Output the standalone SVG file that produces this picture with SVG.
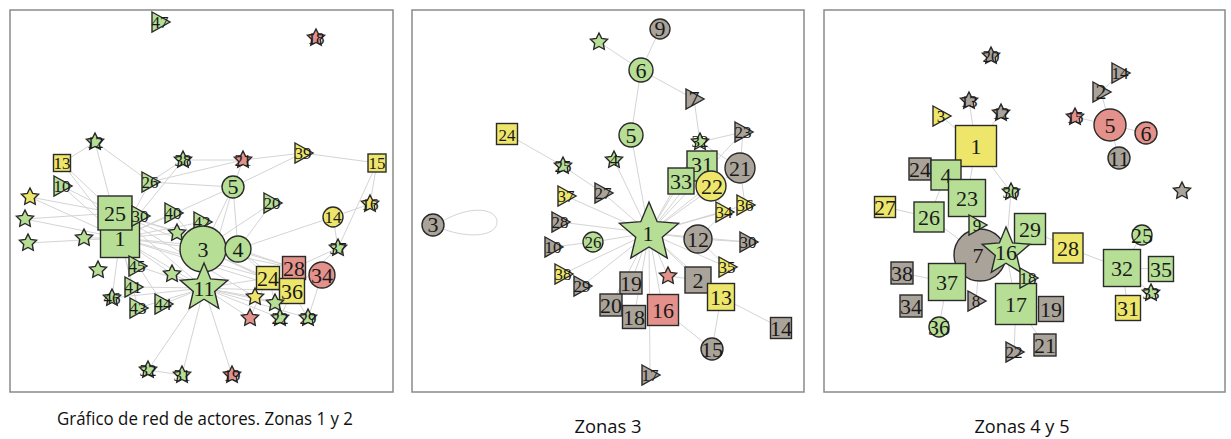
<svg xmlns="http://www.w3.org/2000/svg" xmlns:xlink="http://www.w3.org/1999/xlink" width="1231" height="439" viewBox="0 0 1231 439">
<style>
.frame{fill:#fff;stroke:#8a8a8a;stroke-width:1.5}
.e line,.e path{stroke:#d4d4d4;stroke-width:1;fill:none}
.g{fill:#b6de95}.y{fill:#eee66a}.p{fill:#e3918a}.k{fill:#aaa399}
.n *{stroke:#2a2a2a;stroke-width:1.4}
.n text{stroke:none;fill:#1a1a1a;font-family:"Liberation Serif","DejaVu Serif",serif;font-size:17px;text-anchor:middle}
.n text.b{font-size:22px}
.cap{font-family:"Open Sans","Liberation Sans",sans-serif;font-size:18px;fill:#111;text-anchor:middle}
</style>
<defs>
<path id="s9" d="M0,-9 L2.65,-3.64 L8.56,-2.78 L4.28,1.39 L5.29,7.28 L0,4.5 L-5.29,7.28 L-4.28,1.39 L-8.56,-2.78 L-2.65,-3.64 Z"/>
<path id="s25" d="M0,-25 L6.61,-9.1 L23.78,-7.73 L10.7,3.48 L14.69,20.23 L0,11.25 L-14.69,20.23 L-10.7,3.48 L-23.78,-7.73 L-6.61,-9.1 Z"/>
<path id="s31" d="M0,-31 L8.2,-11.29 L29.48,-9.58 L13.27,4.31 L18.22,25.08 L0,13.95 L-18.22,25.08 L-13.27,4.31 L-29.48,-9.58 L-8.2,-11.29 Z"/>
<path id="t" d="M-8,-10 L10,0 L-8,10 Z"/>
</defs>
<rect x="0" y="0" width="1231" height="439" fill="#fff"/>
<rect class="frame" x="10" y="10" width="383" height="382"/>
<rect class="frame" x="412" y="10" width="392" height="382"/>
<rect class="frame" x="824" y="10" width="401" height="382"/>

<g id="connectors" class="e">
<!-- panel 1 -->
<line x1="120" y1="238" x2="62" y2="163"/><line x1="120" y1="238" x2="95" y2="142"/><line x1="120" y1="238" x2="62" y2="186"/>
<line x1="120" y1="238" x2="30" y2="197"/><line x1="120" y1="238" x2="25" y2="219"/><line x1="120" y1="238" x2="28" y2="243"/>
<line x1="120" y1="238" x2="84" y2="238"/><line x1="120" y1="238" x2="150" y2="182"/><line x1="120" y1="238" x2="203" y2="249"/>
<line x1="120" y1="238" x2="204" y2="288"/><line x1="120" y1="238" x2="238" y2="249"/><line x1="120" y1="238" x2="268" y2="278"/>
<line x1="120" y1="238" x2="292" y2="291"/><line x1="120" y1="238" x2="137" y2="266"/><line x1="120" y1="238" x2="133" y2="287"/>
<line x1="120" y1="238" x2="112" y2="298"/><line x1="120" y1="238" x2="138" y2="308"/><line x1="120" y1="238" x2="163" y2="304"/>
<line x1="120" y1="238" x2="172" y2="274"/><line x1="120" y1="238" x2="173" y2="213"/><line x1="120" y1="238" x2="202" y2="222"/>
<line x1="120" y1="238" x2="177" y2="233"/><line x1="120" y1="238" x2="183" y2="160"/><line x1="120" y1="238" x2="233" y2="187"/>
<line x1="115" y1="213" x2="62" y2="163"/><line x1="115" y1="213" x2="30" y2="197"/><line x1="115" y1="213" x2="25" y2="219"/>
<line x1="115" y1="213" x2="62" y2="186"/><line x1="115" y1="213" x2="203" y2="249"/><line x1="115" y1="213" x2="204" y2="288"/>
<line x1="115" y1="213" x2="238" y2="249"/><line x1="115" y1="213" x2="294" y2="268"/><line x1="115" y1="213" x2="255" y2="297"/>
<line x1="95" y1="142" x2="62" y2="163"/><line x1="95" y1="142" x2="150" y2="182"/>
<line x1="150" y1="182" x2="183" y2="160"/><line x1="150" y1="182" x2="233" y2="187"/><line x1="150" y1="182" x2="243" y2="160"/>
<line x1="183" y1="160" x2="243" y2="160"/><line x1="243" y1="160" x2="303" y2="153"/><line x1="303" y1="153" x2="377" y2="163"/>
<line x1="303" y1="153" x2="233" y2="187"/><line x1="243" y1="160" x2="233" y2="187"/><line x1="233" y1="187" x2="203" y2="249"/>
<line x1="233" y1="187" x2="238" y2="249"/><line x1="233" y1="187" x2="204" y2="288"/><line x1="272" y1="203" x2="238" y2="249"/>
<line x1="272" y1="203" x2="203" y2="249"/><line x1="377" y1="163" x2="338" y2="248"/><line x1="377" y1="163" x2="370" y2="204"/>
<line x1="370" y1="204" x2="333" y2="217"/><line x1="333" y1="217" x2="338" y2="248"/><line x1="333" y1="217" x2="238" y2="249"/>
<line x1="338" y1="248" x2="294" y2="268"/><line x1="338" y1="248" x2="292" y2="291"/><line x1="322" y1="275" x2="308" y2="318"/>
<line x1="292" y1="291" x2="308" y2="318"/><line x1="203" y1="249" x2="204" y2="288"/><line x1="203" y1="249" x2="268" y2="278"/>
<line x1="203" y1="249" x2="292" y2="291"/><line x1="203" y1="249" x2="294" y2="268"/><line x1="238" y1="249" x2="268" y2="278"/>
<line x1="238" y1="249" x2="294" y2="268"/><line x1="238" y1="249" x2="292" y2="291"/><line x1="204" y1="288" x2="268" y2="278"/>
<line x1="204" y1="288" x2="292" y2="291"/><line x1="204" y1="288" x2="255" y2="297"/><line x1="204" y1="288" x2="275" y2="303"/>
<line x1="204" y1="288" x2="280" y2="318"/><line x1="204" y1="288" x2="308" y2="318"/><line x1="204" y1="288" x2="250" y2="318"/>
<line x1="204" y1="288" x2="232" y2="375"/><line x1="204" y1="288" x2="148" y2="370"/><line x1="204" y1="288" x2="182" y2="375"/>
<line x1="204" y1="288" x2="137" y2="266"/><line x1="204" y1="288" x2="133" y2="287"/><line x1="204" y1="288" x2="138" y2="308"/>
<line x1="204" y1="288" x2="163" y2="304"/><line x1="204" y1="288" x2="112" y2="298"/><line x1="204" y1="288" x2="172" y2="274"/>
<line x1="203" y1="249" x2="177" y2="233"/><line x1="203" y1="249" x2="202" y2="222"/><line x1="203" y1="249" x2="173" y2="213"/>
<line x1="148" y1="370" x2="182" y2="375"/><line x1="268" y1="278" x2="280" y2="318"/><line x1="255" y1="297" x2="275" y2="303"/>
<line x1="292" y1="291" x2="280" y2="318"/><line x1="268" y1="278" x2="250" y2="318"/>
<!-- panel 2 -->
<line x1="660" y1="29" x2="641" y2="70"/><line x1="641" y1="70" x2="599" y2="42"/><line x1="641" y1="70" x2="631" y2="135"/>
<line x1="641" y1="70" x2="694" y2="99"/><line x1="694" y1="99" x2="700" y2="142"/><line x1="631" y1="135" x2="649" y2="233"/>
<line x1="507" y1="134" x2="563" y2="166"/><line x1="563" y1="166" x2="603" y2="193"/>
<line x1="649" y1="233" x2="614" y2="160"/><line x1="649" y1="233" x2="566" y2="196"/><line x1="649" y1="233" x2="603" y2="193"/>
<line x1="649" y1="233" x2="560" y2="222"/><line x1="649" y1="233" x2="593" y2="242"/><line x1="649" y1="233" x2="563" y2="274"/>
<line x1="649" y1="233" x2="582" y2="286"/><line x1="649" y1="233" x2="631" y2="283"/><line x1="649" y1="233" x2="611" y2="305"/>
<line x1="649" y1="233" x2="634" y2="317"/><line x1="649" y1="233" x2="663" y2="310"/><line x1="649" y1="233" x2="650" y2="375"/>
<line x1="649" y1="233" x2="698" y2="239"/><line x1="649" y1="233" x2="698" y2="280"/><line x1="649" y1="233" x2="724" y2="212"/>
<line x1="649" y1="233" x2="745" y2="205"/><line x1="649" y1="233" x2="743" y2="132"/><line x1="649" y1="233" x2="740" y2="168"/>
<line x1="649" y1="233" x2="711" y2="184"/><line x1="649" y1="233" x2="681" y2="181"/><line x1="649" y1="233" x2="702" y2="166"/>
<line x1="649" y1="233" x2="700" y2="142"/><line x1="649" y1="233" x2="668" y2="276"/><line x1="649" y1="233" x2="727" y2="267"/>
<line x1="649" y1="233" x2="748" y2="242"/><line x1="649" y1="233" x2="721" y2="297"/>
<line x1="593" y1="242" x2="553" y2="247"/><line x1="698" y1="239" x2="748" y2="242"/><line x1="698" y1="239" x2="724" y2="212"/>
<line x1="698" y1="280" x2="721" y2="297"/><line x1="721" y1="297" x2="781" y2="328"/><line x1="721" y1="297" x2="712" y2="349"/>
<line x1="663" y1="310" x2="712" y2="349"/><line x1="740" y1="168" x2="743" y2="132"/><line x1="700" y1="142" x2="743" y2="132"/>
<line x1="700" y1="142" x2="740" y2="168"/><line x1="711" y1="184" x2="724" y2="212"/><line x1="698" y1="239" x2="727" y2="267"/>
<line x1="698" y1="280" x2="668" y2="276"/><line x1="740" y1="168" x2="745" y2="205"/>
<path d="M443,221 C470,205 497,208 497,222 C497,236 470,239 443,229"/>
<!-- panel 3 -->
<line x1="941" y1="116" x2="976" y2="146"/><line x1="969" y1="101" x2="976" y2="146"/><line x1="1001" y1="113" x2="976" y2="146"/>
<line x1="976" y1="146" x2="1011" y2="192"/><line x1="976" y1="146" x2="967" y2="198"/><line x1="976" y1="146" x2="946" y2="175"/>
<line x1="946" y1="175" x2="920" y2="169"/><line x1="946" y1="175" x2="929" y2="217"/><line x1="929" y1="217" x2="885" y2="207"/>
<line x1="929" y1="217" x2="980" y2="255"/><line x1="967" y1="198" x2="980" y2="255"/><line x1="967" y1="198" x2="977" y2="225"/>
<line x1="980" y1="255" x2="1006" y2="252"/><line x1="980" y1="255" x2="947" y2="282"/><line x1="947" y1="282" x2="902" y2="273"/>
<line x1="947" y1="282" x2="939" y2="327"/><line x1="980" y1="255" x2="976" y2="301"/><line x1="1006" y1="252" x2="1030" y2="229"/>
<line x1="1006" y1="252" x2="1016" y2="304"/><line x1="1006" y1="252" x2="1011" y2="192"/><line x1="1016" y1="304" x2="1014" y2="352"/>
<line x1="1016" y1="304" x2="1045" y2="345"/><line x1="1016" y1="304" x2="1051" y2="309"/><line x1="1030" y1="229" x2="1068" y2="248"/>
<line x1="1068" y1="248" x2="1122" y2="268"/><line x1="1122" y1="268" x2="1142" y2="235"/><line x1="1122" y1="268" x2="1161" y2="269"/>
<line x1="1122" y1="268" x2="1128" y2="308"/><line x1="1110" y1="125" x2="1101" y2="92"/><line x1="1110" y1="125" x2="1075" y2="117"/>
<line x1="1110" y1="125" x2="1146" y2="133"/><line x1="1110" y1="125" x2="1119" y2="158"/><line x1="1101" y1="92" x2="1120" y2="73"/>
<line x1="1006" y1="252" x2="1028" y2="278"/><line x1="1122" y1="268" x2="1151" y2="293"/>
</g>

<!-- ===== Panel 1 nodes ===== -->
<g id="p1-47" class="n"><use href="#t" x="160" y="22" class="g"/><text x="160" y="28">47</text></g>
<g id="p1-18" class="n"><use href="#s9" x="316" y="38" class="p"/><text x="316" y="44">18</text></g>
<g id="p1-12" class="n"><use href="#s9" x="95" y="142" class="g"/><text x="95" y="148">12</text></g>
<g id="p1-13" class="n"><rect x="53.5" y="154.5" width="17" height="17" class="y"/><text x="62" y="169">13</text></g>
<g id="p1-10" class="n"><use href="#t" x="62" y="186" class="g"/><text x="62" y="192">10</text></g>
<g id="p1-26" class="n"><use href="#t" x="150" y="182" class="g"/><text x="150" y="188">26</text></g>
<g id="p1-38" class="n"><use href="#s9" x="183" y="160" class="g"/><text x="183" y="166">38</text></g>
<g id="p1-21" class="n"><use href="#s9" x="243" y="160" class="p"/><text x="243" y="166">21</text></g>
<g id="p1-39" class="n"><use href="#t" x="303" y="153" class="y"/><text x="303" y="159">39</text></g>
<g id="p1-15" class="n"><rect x="368" y="154" width="18" height="18" class="y"/><text x="377" y="169">15</text></g>
<g id="p1-5" class="n"><circle cx="233" cy="187" r="11" class="g"/><text x="233" y="194" class="b">5</text></g>
<g id="p1-20" class="n"><use href="#t" x="272" y="203" class="g"/><text x="272" y="209">20</text></g>
<g id="p1-16" class="n"><use href="#s9" x="370" y="204" class="y"/><text x="370" y="210">16</text></g>
<g id="p1-14" class="n"><circle cx="333" cy="217" r="10" class="y"/><text x="333" y="223">14</text></g>
<g id="p1-37" class="n"><use href="#s9" x="338" y="248" class="g"/><text x="338" y="254">37</text></g>
<g id="p1-a" class="n"><use href="#s9" x="30" y="197" class="y"/></g>
<g id="p1-b" class="n"><use href="#s9" x="25" y="219" class="g"/></g>
<g id="p1-c" class="n"><use href="#s9" x="28" y="243" class="g"/></g>
<g id="p1-d" class="n"><use href="#s9" x="84" y="238" class="g"/></g>
<g id="p1-e" class="n"><use href="#s9" x="98" y="270" class="g"/></g>
<g id="p1-1" class="n"><rect x="100.5" y="218.5" width="39" height="39" class="g"/><text x="120" y="246" class="b">1</text></g>
<g id="p1-25" class="n"><rect x="98" y="196" width="34" height="34" class="g"/><text x="115" y="221" class="b">25</text></g>
<g id="p1-30" class="n"><use href="#t" x="140" y="216" class="g"/><text x="140" y="222">30</text></g>
<g id="p1-40" class="n"><use href="#t" x="173" y="213" class="g"/><text x="173" y="219">40</text></g>
<g id="p1-f" class="n"><use href="#s9" x="177" y="233" class="g"/></g>
<g id="p1-42" class="n"><use href="#t" x="202" y="222" class="g"/><text x="202" y="228">42</text></g>
<g id="p1-3" class="n"><circle cx="203" cy="249" r="23" class="g"/><text x="203" y="257" class="b">3</text></g>
<g id="p1-4" class="n"><circle cx="238" cy="249" r="13" class="g"/><text x="238" y="257" class="b">4</text></g>
<g id="p1-11" class="n"><use href="#s25" x="204" y="288" class="g"/><text x="204" y="296" class="b">11</text></g>
<g id="p1-45" class="n"><use href="#t" x="137" y="266" class="g"/><text x="137" y="272">45</text></g>
<g id="p1-41" class="n"><use href="#t" x="133" y="287" class="g"/><text x="133" y="293">41</text></g>
<g id="p1-46" class="n"><use href="#s9" x="112" y="298" class="g"/><text x="112" y="304">46</text></g>
<g id="p1-43" class="n"><use href="#t" x="138" y="308" class="g"/><text x="138" y="314">43</text></g>
<g id="p1-44" class="n"><use href="#t" x="163" y="304" class="g"/><text x="163" y="310">44</text></g>
<g id="p1-g" class="n"><use href="#s9" x="172" y="274" class="g"/></g>
<g id="p1-28" class="n"><rect x="282.5" y="256.5" width="23" height="23" class="p"/><text x="294" y="276" class="b">28</text></g>
<g id="p1-34" class="n"><circle cx="322" cy="275" r="13" class="p"/><text x="322" y="283" class="b">34</text></g>
<g id="p1-24" class="n"><rect x="256.5" y="266.5" width="23" height="23" class="y"/><text x="268" y="286" class="b">24</text></g>
<g id="p1-36" class="n"><rect x="279.5" y="278.5" width="25" height="25" class="y"/><text x="292" y="299" class="b">36</text></g>
<g id="p1-h" class="n"><use href="#s9" x="255" y="297" class="y"/></g>
<g id="p1-i" class="n"><use href="#s9" x="275" y="303" class="g"/></g>
<g id="p1-j" class="n"><use href="#s9" x="250" y="318" class="p"/></g>
<g id="p1-22" class="n"><use href="#s9" x="280" y="318" class="g"/><text x="280" y="324">22</text></g>
<g id="p1-29" class="n"><use href="#s9" x="308" y="318" class="g"/><text x="308" y="324">29</text></g>
<g id="p1-19" class="n"><use href="#s9" x="232" y="375" class="p"/><text x="232" y="381">19</text></g>
<g id="p1-32" class="n"><use href="#s9" x="148" y="370" class="g"/><text x="148" y="376">32</text></g>
<g id="p1-31" class="n"><use href="#s9" x="182" y="375" class="g"/><text x="182" y="381">31</text></g>

<!-- ===== Panel 2 nodes ===== -->
<g id="p2-9" class="n"><circle cx="660" cy="29" r="10" class="k"/><text x="660" y="36" class="b">9</text></g>
<g id="p2-6" class="n"><circle cx="641" cy="70" r="12" class="g"/><text x="641" y="78" class="b">6</text></g>
<g id="p2-a" class="n"><use href="#s9" x="599" y="42" class="g"/></g>
<g id="p2-7" class="n"><use href="#t" x="694" y="99" class="k"/><text x="694" y="106" class="b">7</text></g>
<g id="p2-5" class="n"><circle cx="631" cy="135" r="12" class="g"/><text x="631" y="143" class="b">5</text></g>
<g id="p2-24" class="n"><rect x="496.5" y="123.5" width="21" height="21" class="y"/><text x="507" y="141">24</text></g>
<g id="p2-25" class="n"><use href="#s9" x="563" y="166" class="g"/><text x="563" y="172">25</text></g>
<g id="p2-4" class="n"><use href="#s9" x="614" y="160" class="g"/><text x="614" y="166">4</text></g>
<g id="p2-23" class="n"><use href="#t" x="743" y="132" class="k"/><text x="743" y="138">23</text></g>
<g id="p2-32" class="n"><use href="#s9" x="700" y="142" class="g"/><text x="700" y="147">32</text></g>
<g id="p2-31" class="n"><rect x="687" y="151" width="30" height="30" class="g"/><text x="702" y="172" class="b">31</text></g>
<g id="p2-21" class="n"><circle cx="740" cy="168" r="15" class="k"/><text x="740" y="176" class="b">21</text></g>
<g id="p2-22" class="n"><circle cx="711" cy="186" r="15" class="y"/><text x="712" y="194" class="b">22</text></g>
<g id="p2-33" class="n"><rect x="668" y="168" width="26" height="26" class="g"/><text x="681" y="189" class="b">33</text></g>
<g id="p2-37" class="n"><use href="#t" x="566" y="196" class="y"/><text x="566" y="202">37</text></g>
<g id="p2-27" class="n"><use href="#t" x="603" y="193" class="k"/><text x="603" y="199">27</text></g>
<g id="p2-28" class="n"><use href="#t" x="560" y="222" class="k"/><text x="560" y="228">28</text></g>
<g id="p2-26" class="n"><circle cx="593" cy="242" r="10" class="g"/><text x="593" y="248">26</text></g>
<g id="p2-10" class="n"><use href="#t" x="553" y="247" class="k"/><text x="553" y="253">10</text></g>
<g id="p2-38" class="n"><use href="#t" x="563" y="274" class="y"/><text x="563" y="280">38</text></g>
<g id="p2-29" class="n"><use href="#t" x="582" y="286" class="k"/><text x="582" y="292">29</text></g>
<g id="p2-3" class="n"><circle cx="433" cy="225" r="11" class="k"/><text x="433" y="232" class="b">3</text></g>
<g id="p2-1" class="n"><use href="#s31" x="649" y="233" class="g"/><text x="648" y="241" class="b">1</text></g>
<g id="p2-36" class="n"><use href="#t" x="745" y="205" class="y"/><text x="745" y="211">36</text></g>
<g id="p2-34" class="n"><use href="#t" x="724" y="212" class="y"/><text x="724" y="218">34</text></g>
<g id="p2-12" class="n"><circle cx="698" cy="239" r="14" class="k"/><text x="698" y="247" class="b">12</text></g>
<g id="p2-30" class="n"><use href="#t" x="748" y="242" class="k"/><text x="748" y="248">30</text></g>
<g id="p2-35" class="n"><use href="#t" x="727" y="267" class="y"/><text x="727" y="273">35</text></g>
<g id="p2-b" class="n"><use href="#s9" x="668" y="276" class="p"/></g>
<g id="p2-2" class="n"><rect x="685" y="267" width="26" height="26" class="k"/><text x="698" y="288" class="b">2</text></g>
<g id="p2-13" class="n"><rect x="707.5" y="283.5" width="27" height="27" class="y"/><text x="721" y="305" class="b">13</text></g>
<g id="p2-19" class="n"><rect x="620" y="272" width="22" height="22" class="k"/><text x="631" y="291" class="b">19</text></g>
<g id="p2-20" class="n"><rect x="600" y="294" width="22" height="22" class="k"/><text x="611" y="313" class="b">20</text></g>
<g id="p2-18" class="n"><rect x="622.5" y="305.5" width="23" height="23" class="k"/><text x="634" y="325" class="b">18</text></g>
<g id="p2-16" class="n"><rect x="647.5" y="294.5" width="31" height="31" class="p"/><text x="663" y="318" class="b">16</text></g>
<g id="p2-14" class="n"><rect x="770.5" y="317.5" width="21" height="21" class="k"/><text x="781" y="336" class="b">14</text></g>
<g id="p2-15" class="n"><circle cx="712" cy="349" r="11" class="k"/><text x="712" y="357" class="b">15</text></g>
<g id="p2-17" class="n"><use href="#t" x="650" y="375" class="k"/><text x="650" y="381">17</text></g>

<!-- ===== Panel 3 nodes ===== -->
<g id="p3-20" class="n"><use href="#s9" x="991" y="56" class="k"/><text x="991" y="62">20</text></g>
<g id="p3-14" class="n"><use href="#t" x="1120" y="73" class="k"/><text x="1120" y="79">14</text></g>
<g id="p3-2" class="n"><use href="#t" x="1101" y="92" class="k"/><text x="1101" y="99" class="b">2</text></g>
<g id="p3-3" class="n"><use href="#t" x="941" y="116" class="y"/><text x="941" y="122">3</text></g>
<g id="p3-13" class="n"><use href="#s9" x="969" y="101" class="k"/><text x="969" y="107">13</text></g>
<g id="p3-12" class="n"><use href="#s9" x="1001" y="113" class="k"/><text x="1001" y="119">12</text></g>
<g id="p3-15" class="n"><use href="#s9" x="1075" y="117" class="p"/><text x="1075" y="123">15</text></g>
<g id="p3-5" class="n"><circle cx="1110" cy="125" r="16" class="p"/><text x="1110" y="133" class="b">5</text></g>
<g id="p3-6" class="n"><circle cx="1146" cy="133" r="11" class="p"/><text x="1146" y="141" class="b">6</text></g>
<g id="p3-11" class="n"><circle cx="1119" cy="158" r="11" class="k"/><text x="1119" y="166" class="b">11</text></g>
<g id="p3-1" class="n"><rect x="955.5" y="125.5" width="41" height="41" class="y"/><text x="976" y="154" class="b">1</text></g>
<g id="p3-24" class="n"><rect x="909" y="158" width="22" height="22" class="k"/><text x="920" y="177" class="b">24</text></g>
<g id="p3-4" class="n"><rect x="931" y="160" width="30" height="30" class="g"/><text x="946" y="183" class="b">4</text></g>
<g id="p3-23" class="n"><rect x="948.5" y="179.5" width="37" height="37" class="g"/><text x="967" y="206" class="b">23</text></g>
<g id="p3-30" class="n"><use href="#s9" x="1011" y="192" class="g"/><text x="1011" y="198">30</text></g>
<g id="p3-27" class="n"><rect x="874.5" y="196.5" width="21" height="21" class="y"/><text x="885" y="215" class="b">27</text></g>
<g id="p3-26" class="n"><rect x="914" y="202" width="30" height="30" class="g"/><text x="929" y="225" class="b">26</text></g>
<g id="p3-7" class="n"><circle cx="980" cy="255" r="26" class="k"/><text x="978" y="263" class="b">7</text></g>
<g id="p3-9" class="n"><use href="#t" x="977" y="225" class="g"/><text x="977" y="231">9</text></g>
<g id="p3-29" class="n"><rect x="1014.5" y="213.5" width="31" height="31" class="g"/><text x="1030" y="237" class="b">29</text></g>
<g id="p3-16" class="n"><use href="#s25" x="1006" y="252" class="g"/><text x="1006" y="260" class="b">16</text></g>
<g id="p3-28" class="n"><rect x="1053" y="233" width="30" height="30" class="y"/><text x="1068" y="256" class="b">28</text></g>
<g id="p3-17" class="n"><rect x="995.5" y="283.5" width="41" height="41" class="g"/><text x="1016" y="312" class="b">17</text></g>
<g id="p3-18" class="n"><use href="#t" x="1028" y="278" class="g"/><text x="1028" y="284">18</text></g>
<g id="p3-19" class="n"><rect x="1038.5" y="296.5" width="25" height="25" class="k"/><text x="1051" y="317" class="b">19</text></g>
<g id="p3-21" class="n"><rect x="1034" y="334" width="22" height="22" class="k"/><text x="1045" y="353" class="b">21</text></g>
<g id="p3-22" class="n"><use href="#t" x="1014" y="352" class="k"/><text x="1014" y="358">22</text></g>
<g id="p3-37" class="n"><rect x="928.5" y="263.5" width="37" height="37" class="g"/><text x="947" y="290" class="b">37</text></g>
<g id="p3-38" class="n"><rect x="891" y="262" width="22" height="22" class="k"/><text x="902" y="281" class="b">38</text></g>
<g id="p3-34" class="n"><rect x="900" y="295" width="22" height="22" class="k"/><text x="911" y="314" class="b">34</text></g>
<g id="p3-36" class="n"><circle cx="939" cy="327" r="10" class="g"/><text x="939" y="335" class="b">36</text></g>
<g id="p3-8" class="n"><use href="#t" x="976" y="301" class="k"/><text x="976" y="307">8</text></g>
<g id="p3-25" class="n"><circle cx="1142" cy="235" r="10" class="g"/><text x="1142" y="243" class="b">25</text></g>
<g id="p3-32" class="n"><rect x="1103.5" y="249.5" width="37" height="37" class="g"/><text x="1122" y="276" class="b">32</text></g>
<g id="p3-35" class="n"><rect x="1148.5" y="256.5" width="25" height="25" class="g"/><text x="1161" y="277" class="b">35</text></g>
<g id="p3-31" class="n"><rect x="1115.5" y="295.5" width="25" height="25" class="y"/><text x="1128" y="316" class="b">31</text></g>
<g id="p3-33" class="n"><use href="#s9" x="1151" y="293" class="g"/><text x="1151" y="299">33</text></g>
<g id="p3-a" class="n"><use href="#s9" x="1182" y="191" class="k"/></g>

<text class="cap" x="205" y="425" textLength="296" lengthAdjust="spacingAndGlyphs">Gráfico de red de actores. Zonas 1 y 2</text>
<text class="cap" x="608" y="433" textLength="67" lengthAdjust="spacingAndGlyphs">Zonas 3</text>
<text class="cap" x="1022" y="433" textLength="95" lengthAdjust="spacingAndGlyphs">Zonas 4 y 5</text>
</svg>
